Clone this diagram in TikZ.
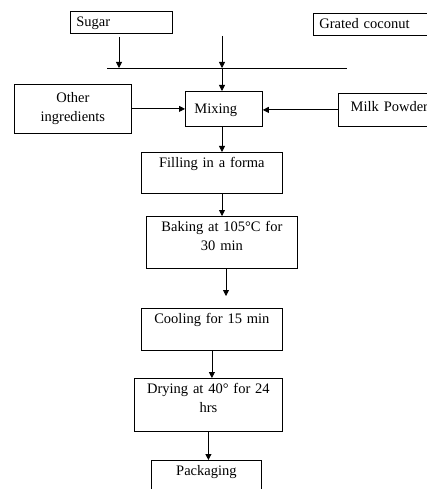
\documentclass[tikz,border=0pt]{standalone}
\usepackage{fontspec}
\setmainfont{Liberation Serif}
\usetikzlibrary{arrows.meta}
\tikzset{
  stage/.style={draw, line width=0.8pt, anchor=north west, inner sep=0pt,
    text height=15pt, align=center, font=\fontsize{14.5pt}{19pt}\selectfont},
  flow/.style={line width=0.8pt, -{Triangle[length=6pt,width=6pt]}}
}
\begin{document}
\begin{tikzpicture}[x=1pt,y=-1pt]
	\useasboundingbox (0,0) rectangle (427,489);
	% raw materials
	\node[stage, align=left, inner xsep=6pt, text width=90pt, text depth=7pt] (sugar) at (70,11) {Sugar};
	\node[stage, align=left, inner xsep=6pt, text width=110pt, text depth=7pt] (coconut) at (313,13) {Grated coconut};
	\node[stage, text width=117pt, text height=18pt, text depth=31pt] (other) at (14,84) {Other\\ingredients};
	\node[stage, align=left, inner xsep=9pt, text width=59pt, text height=22pt, text depth=13pt] (mixing) at (185,91) {Mixing};
	\node[stage, text width=102pt, text height=18pt, text depth=15pt] (milk) at (338,93) {Milk Powder};
	% process steps
	\node[stage, text width=141pt, text depth=26pt] (filling) at (141,152) {Filling in a forma};
	\node[stage, text width=151pt, text depth=37pt] (baking) at (146,216) {Baking at 105°C for\\30 min};
	\node[stage, text width=141pt, text depth=27pt] (cooling) at (141,308) {Cooling for 15 min};
	\node[stage, text width=148pt, text depth=38pt] (drying) at (134,378) {Drying at 40° for 24\\hrs};
	\node[stage, text width=110pt, text depth=30pt] (packaging) at (151,460) {Packaging};
	% collecting line
	\coordinate (barW) at (107,68);
	\coordinate (barE) at (347,68);
	\coordinate (s1) at (119,68);
	\coordinate (top) at (222,36);
	\coordinate (m1) at (222,68);
	\coordinate (c1) at (226,296);
	\draw[line width=0.8pt] (barW) -- (barE);
	\draw[flow] ([yshift=-3pt]sugar.south -| s1) -- (s1);
	\draw[flow] (top) -- (m1);
	\draw[flow] (m1) -- (m1 |- mixing.north);
	\draw[flow] (other.east) -- (other.east -| mixing.west);
	\draw[flow] (milk.west) -- (milk.west -| mixing.east);
	\draw[flow] (m1 |- mixing.south) -- (m1 |- filling.north);
	\draw[flow] (m1 |- filling.south) -- (m1 |- baking.north);
	\draw[flow] (baking.south -| c1) -- (c1);
	\draw[flow] (cooling.south) -- (cooling.south |- drying.north);
	\draw[flow] (drying.south) -- (drying.south |- packaging.north);
\end{tikzpicture}
\end{document}
